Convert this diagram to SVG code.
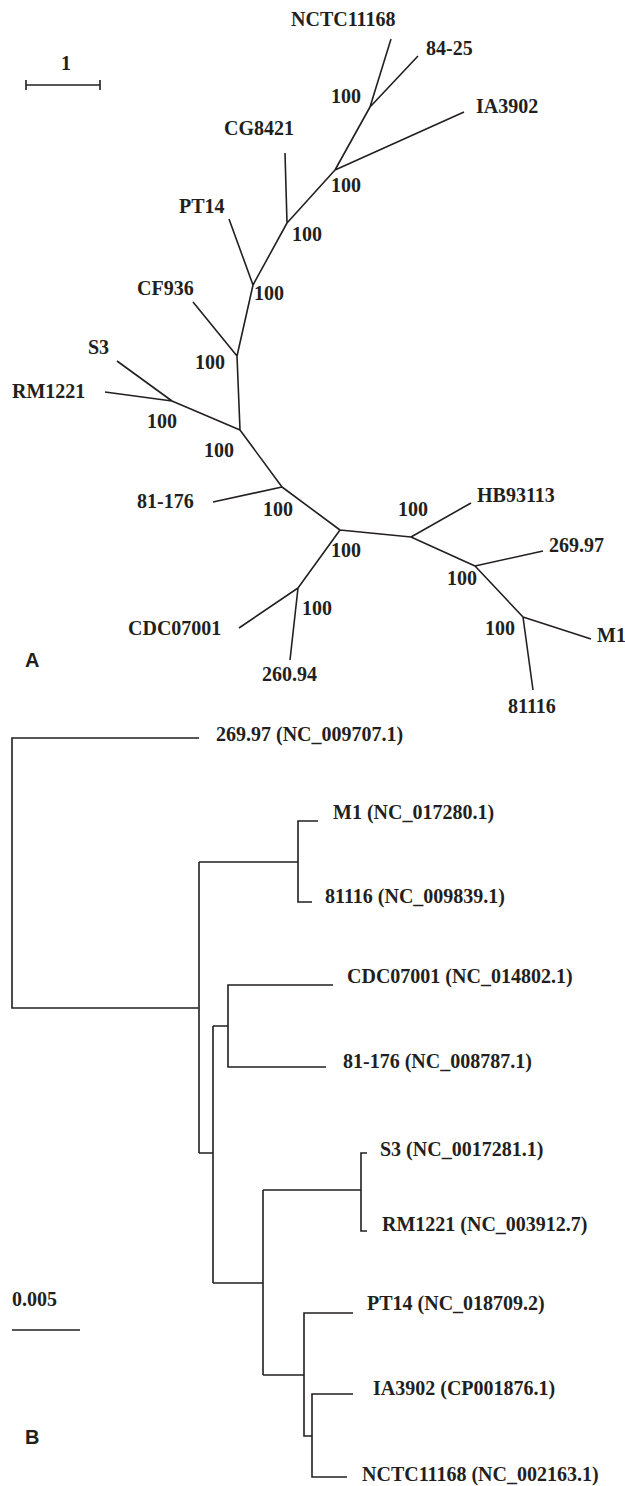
<svg xmlns="http://www.w3.org/2000/svg" width="625" height="1486" viewBox="0 0 625 1486">
<style>
.br{stroke:#231f20;stroke-width:1.6;fill:none;stroke-linecap:butt;stroke-linejoin:miter}
.lbl{font-family:"Liberation Serif","Times New Roman",serif;font-weight:bold;font-size:20px;fill:#231f20}
.bs{font-family:"Liberation Serif","Times New Roman",serif;font-weight:bold;font-size:20px;fill:#231f20}
.panel{font-family:"Liberation Sans",Arial,sans-serif;font-weight:bold;font-size:20px;fill:#231f20}
</style>
<rect width="625" height="1486" fill="#ffffff"/>

<!-- Panel A: unrooted tree -->
<g id="scaleA">
<text class="lbl" x="66" y="70" text-anchor="middle">1</text>
<path class="br" d="M26,85 H100 M26,80 V90 M100,80 V90"/>
</g>

<g id="connectorsA">
<path class="br" d="M391,39 L370,107 M418,56 L370,107 M370,107 L335,170 M464,112 L335,170 M335,170 L287,223 M285,153 L287,223 M287,223 L253,285 M229,219 L253,285 M253,285 L237,356 M193,302 L237,356 M237,356 L240,430 M117,361 L172,401 M105,392 L172,401 M172,401 L240,430 M240,430 L282,487 M213,502 L282,487 M282,487 L340,530 M340,530 L298,588 M239,628 L298,588 M298,588 L290,660 M340,530 L411,537 M411,537 L471,503 M411,537 L475,566 M475,566 L543,551 M475,566 L523,617 M523,617 L591,639 M523,617 L533,690"/>
</g>

<g id="A_NCTC11168"><text class="lbl" x="291" y="26">NCTC11168</text></g>
<g id="A_84-25"><text class="lbl" x="426" y="55">84-25</text></g>
<g id="A_IA3902"><text class="lbl" x="476" y="113">IA3902</text></g>
<g id="A_CG8421"><text class="lbl" x="224" y="135">CG8421</text></g>
<g id="A_PT14"><text class="lbl" x="179" y="213">PT14</text></g>
<g id="A_CF936"><text class="lbl" x="137" y="295">CF936</text></g>
<g id="A_S3"><text class="lbl" x="88" y="354">S3</text></g>
<g id="A_RM1221"><text class="lbl" x="12" y="398">RM1221</text></g>
<g id="A_81-176"><text class="lbl" x="137" y="508">81-176</text></g>
<g id="A_CDC07001"><text class="lbl" x="128" y="635">CDC07001</text></g>
<g id="A_260.94"><text class="lbl" x="262" y="681">260.94</text></g>
<g id="A_HB93113"><text class="lbl" x="477" y="502">HB93113</text></g>
<g id="A_269.97"><text class="lbl" x="549" y="552">269.97</text></g>
<g id="A_M1"><text class="lbl" x="597" y="642">M1</text></g>
<g id="A_81116"><text class="lbl" x="508" y="713">81116</text></g>

<g id="bootstrapA">
<text class="bs" x="331" y="103">100</text>
<text class="bs" x="331" y="192">100</text>
<text class="bs" x="292" y="241">100</text>
<text class="bs" x="254" y="300">100</text>
<text class="bs" x="195" y="369">100</text>
<text class="bs" x="147" y="428">100</text>
<text class="bs" x="204" y="457">100</text>
<text class="bs" x="263" y="516">100</text>
<text class="bs" x="331" y="557">100</text>
<text class="bs" x="302" y="615">100</text>
<text class="bs" x="398" y="516">100</text>
<text class="bs" x="447" y="585">100</text>
<text class="bs" x="485" y="635">100</text>
</g>

<g id="panelA"><text class="panel" x="25" y="667">A</text></g>

<!-- Panel B: rooted tree -->
<g id="connectorsB">
<path class="br" d="M199,738 H12 V1008 H199"/>
<path class="br" d="M199,862 V1153"/>
<path class="br" d="M199,862 H298 M318,821 H298 V902 H312"/>
<path class="br" d="M199,1153 H213 M213,1026 V1283"/>
<path class="br" d="M213,1026 H228 M333,985 H228 V1067 H326"/>
<path class="br" d="M213,1283 H263 M263,1190 V1375"/>
<path class="br" d="M263,1190 H361 M367,1153 H361 V1231 H367"/>
<path class="br" d="M263,1375 H304 M353,1313 H304 V1436 H312"/>
<path class="br" d="M353,1394 H312 V1477 H347"/>
</g>

<g id="B_269.97"><text class="lbl" x="216" y="741">269.97 (NC_009707.1)</text></g>
<g id="B_M1"><text class="lbl" x="333" y="819">M1 (NC_017280.1)</text></g>
<g id="B_81116"><text class="lbl" x="325" y="903">81116 (NC_009839.1)</text></g>
<g id="B_CDC07001"><text class="lbl" x="347" y="983">CDC07001 (NC_014802.1)</text></g>
<g id="B_81-176"><text class="lbl" x="343" y="1068">81-176 (NC_008787.1)</text></g>
<g id="B_S3"><text class="lbl" x="380" y="1156">S3 (NC_0017281.1)</text></g>
<g id="B_RM1221"><text class="lbl" x="382" y="1231">RM1221 (NC_003912.7)</text></g>
<g id="B_PT14"><text class="lbl" x="367" y="1310">PT14 (NC_018709.2)</text></g>
<g id="B_IA3902"><text class="lbl" x="373" y="1395">IA3902 (CP001876.1)</text></g>
<g id="B_NCTC11168"><text class="lbl" x="362" y="1481">NCTC11168 (NC_002163.1)</text></g>

<g id="scaleB">
<text class="lbl" x="12" y="1306">0.005</text>
<path class="br" d="M12,1330 H80"/>
</g>

<g id="panelB"><text class="panel" x="25" y="1444">B</text></g>
</svg>
